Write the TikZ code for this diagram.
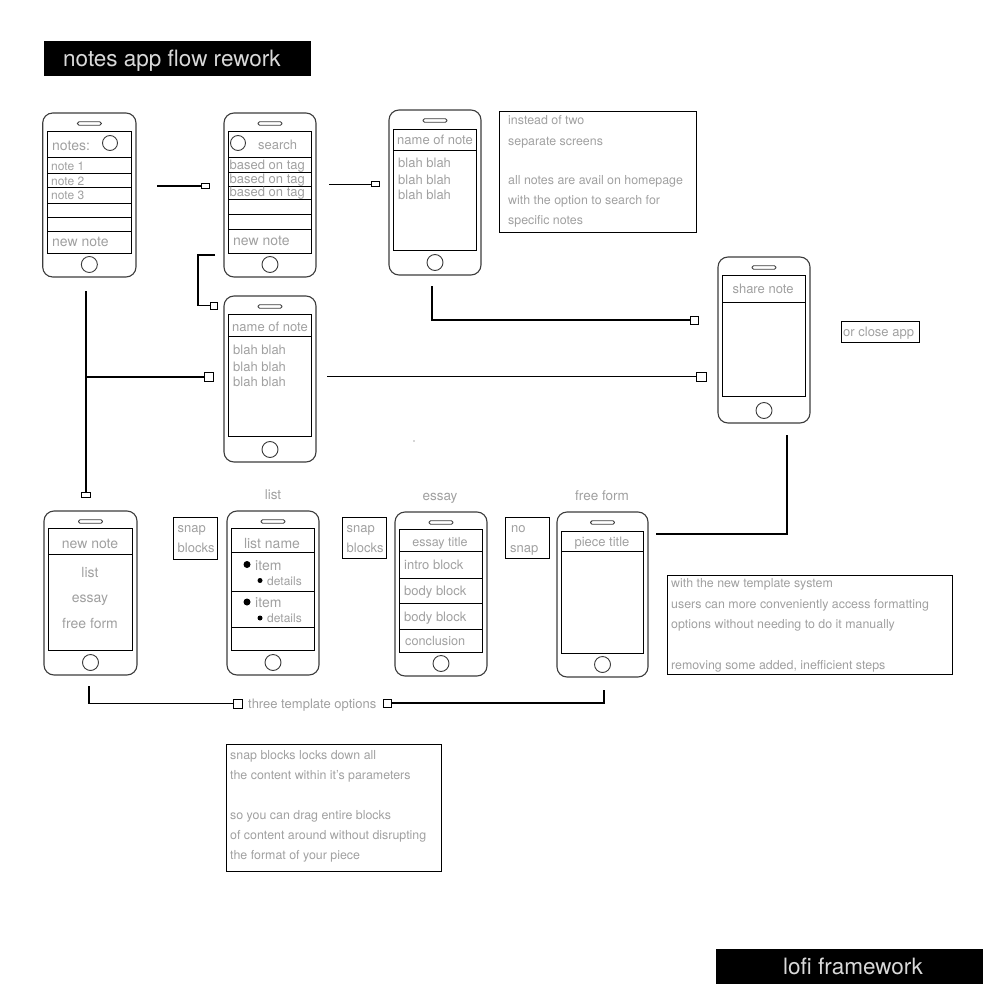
\documentclass[tikz,border=0pt]{standalone}
\usepackage{fontspec}
\setmainfont{TeX Gyre Heros}
\definecolor{txt}{RGB}{160,160,160}
\definecolor{body}{RGB}{60,60,60}
\tikzset{
 phonebody/.style={draw=body, line width=1.1pt, rounded corners=10pt, inner sep=0},
 scr/.style={draw=black, line width=0.9pt, inner sep=0},
 rowline/.style={draw=black, line width=0.9pt},
 spk/.style={draw=body, line width=0.9pt, rounded corners=1.6pt},
 homebtn/.style={draw=body, circle, line width=0.9pt, minimum size=16pt, inner sep=0},
 hdrcirc/.style={draw=body, circle, line width=0.9pt, minimum size=15pt, inner sep=0},
 tb/.style={draw=black, line width=1pt, inner sep=0},
 cn/.style={draw=black, line width=1.2pt},
 endsq/.style={draw=black, line width=1pt, fill=white, inner sep=0, minimum width=8pt, minimum height=8pt},
 endtab/.style={endsq, minimum width=8pt, minimum height=5pt},
 lbl/.style={text=txt, inner sep=0, text height=12pt, text depth=2pt, font=\fontsize{13}{15}\selectfont},
 big/.style={lbl, text height=12.6pt, font=\fontsize{14}{16}\selectfont},
 small/.style={lbl, text height=11.4pt, font=\fontsize{12}{14}\selectfont},
 note/.style={lbl, text height=11.8pt, font=\fontsize{12.4}{14}\selectfont, anchor=west},
 banner/.style={fill=black, inner sep=0},
 bannertxt/.style={text=white!85!black, inner sep=0, text height=18.5pt, text depth=2pt, font=\fontsize{22.5}{24}\selectfont, anchor=west},
 bul/.style={circle, fill=black, inner sep=0, minimum size=7pt},
 sbul/.style={circle, fill=black, inner sep=0, minimum size=5pt},
}
\newcommand\rectnode[6]{%
 \pgfmathsetmacro\rnW{(#5)-(#3)}\pgfmathsetmacro\rnH{(#6)-(#4)}%
 \node[#1, minimum width=\rnW pt, minimum height=\rnH pt] (#2) at ({((#3)+(#5))/2},{((#4)+(#6))/2}) {};}
\newcommand\phone[7]{%
 \pgfmathsetmacro\phX{((#2)+(#4))/2}%
 \rectnode{phonebody}{#1}{#2}{#3}{#4}{#5}%
 \rectnode{scr}{#1-s}{#2+4.5}{#6}{#4-4.5}{#7}%
 \draw[spk] (\phX-12,#3+8.75) rectangle (\phX+12,#3+12.25);%
 \node[homebtn] (#1-h) at (\phX,#5-12.5) {};}
\newcommand\rows[3]{% L R list
 \foreach \yy in {#3} {\draw[rowline] (#1,\yy) -- (#2,\yy);}}
\begin{document}
\begin{tikzpicture}[x=1pt,y=-1pt]
\useasboundingbox (0,0) rectangle (1000,1000);
% banners
\rectnode{banner}{title}{44}{41}{311}{76}
\node[bannertxt] (titletxt) at (63,58.5) {notes app flow rework};
\rectnode{banner}{lofi}{716}{949}{983}{984}
\node[bannertxt] (lofitxt) at (783,966) {lofi framework};

% phone 1: notes
\phone{p1}{42.7}{113}{136}{277}{131}{253}
\rows{47.2}{131.5}{157,173,187,203,217,231}
\node[hdrcirc] (p1c) at (110,143) {};
\node[big, anchor=west] (p1t) at (52,145) {notes:};
\node[small, anchor=west] (p1n1) at (51,165.5) {note 1};
\node[small, anchor=west] (p1n2) at (51,180.5) {note 2};
\node[small, anchor=west] (p1n3) at (51,194.5) {note 3};
\node[big, anchor=west] (p1nn) at (52,241) {new note};

% phone 2: search
\phone{p2}{224}{113}{316}{277}{131}{253}
\rows{228.5}{311.5}{157,172,186,199,214,229}
\node[hdrcirc] (p2c) at (238,143) {};
\node[lbl, anchor=west] (p2t) at (258,145) {search};
\node[lbl, anchor=west] (p2a) at (229.5,165) {based on tag};
\node[lbl, anchor=west] (p2b) at (229.5,179) {based on tag};
\node[lbl, anchor=west] (p2c2) at (229.5,192) {based on tag};
\node[big, anchor=west] (p2nn) at (233,240) {new note};

% phone 3: note
\phone{p3}{389}{110}{481}{275}{129}{250}
\rows{393.5}{476.5}{150}
\node[lbl] (p3t) at (435,140) {name of note};
\node[lbl, anchor=west] (p3a) at (398,163) {blah blah};
\node[lbl, anchor=west] (p3b) at (398,180) {blah blah};
\node[lbl, anchor=west] (p3c) at (398,195) {blah blah};

% text box 1
\rectnode{tb}{box1}{499}{112}{696}{233}
\node[note] (b1l1) at (508,120) {instead of two};
\node[note] (b1l2) at (508,141) {separate screens};
\node[note] (b1l3) at (508,180) {all notes are avail on homepage};
\node[note] (b1l4) at (508,200) {with the option to search for};
\node[note] (b1l5) at (508,220) {specific notes};

% middle phone
\phone{p4}{224}{296}{316}{462}{314}{436}
\rows{228.5}{311.5}{336}
\node[lbl] (p4t) at (270,326) {name of note};
\node[lbl, anchor=west] (p4a) at (233,349) {blah blah};
\node[lbl, anchor=west] (p4b) at (233,366) {blah blah};
\node[lbl, anchor=west] (p4c) at (233,381) {blah blah};
\node[circle, fill=black!70, inner sep=0, minimum size=1.3pt] (dot) at (414,441) {};

% share phone
\phone{p5}{718}{257}{810}{423}{275}{396}
\rows{722.5}{805.5}{302}
\node[lbl] (p5t) at (763,288) {share note};
\rectnode{tb}{closebox}{841}{321}{919}{342}
\node[lbl, anchor=west] (closetxt) at (843,331.5) {or close app};

% bottom phones
\phone{p6}{44}{511}{137}{675}{528}{650}
\rows{48.5}{132.5}{554}
\node[big] (p6t) at (90,543) {new note};
\node[big] (p6a) at (90,572) {list};
\node[big] (p6b) at (90,597) {essay};
\node[big] (p6c) at (90,623) {free form};

\rectnode{tb}{snap1}{173}{517}{217}{559}
\node[lbl, anchor=west] (s1a) at (177.5,527) {snap};
\node[lbl, anchor=west] (s1b) at (177.5,547) {blocks};

\node[lbl, font=\fontsize{13.5}{15}\selectfont] (lab1) at (273,494) {list};
\phone{p7}{227}{511}{319}{675}{528}{650}
\rows{231.5}{314.5}{552,591,627}
\node[big] (p7t) at (272,543) {list name};
\node[bul] (p7b1) at (247,564.5) {};
\node[big, anchor=west] (p7i1) at (255,565) {item};
\node[sbul] (p7s1) at (260,580.5) {};
\node[small, anchor=west] (p7d1) at (267,580.5) {details};
\node[bul] (p7b2) at (247,602) {};
\node[big, anchor=west] (p7i2) at (255,602.5) {item};
\node[sbul] (p7s2) at (260,618) {};
\node[small, anchor=west] (p7d2) at (267,618) {details};

\rectnode{tb}{snap2}{342}{517}{386}{558}
\node[lbl, anchor=west] (s2a) at (346.5,527) {snap};
\node[lbl, anchor=west] (s2b) at (346.5,547) {blocks};

\node[lbl, font=\fontsize{13.5}{15}\selectfont] (lab2) at (440,495) {essay};
\phone{p8}{395}{512}{487}{676}{529}{652}
\rows{399.5}{482.5}{551,578,603,629}
\node[lbl, font=\fontsize{12.5}{14}\selectfont] (p8t) at (440,541) {essay title};
\node[lbl, anchor=west] (p8a) at (404,564) {intro block};
\node[lbl, anchor=west] (p8b) at (404,590) {body block};
\node[lbl, anchor=west] (p8c) at (404,616) {body block};
\node[lbl, anchor=west, font=\fontsize{12.7}{14}\selectfont] (p8d) at (405,640) {conclusion};

\rectnode{tb}{nosnap}{505}{517}{549}{558}
\node[lbl, anchor=west] (nsa) at (511,527) {no};
\node[lbl, anchor=west] (nsb) at (510,547) {snap};

\node[lbl, font=\fontsize{13.5}{15}\selectfont] (lab3) at (602,495) {free form};
\phone{p9}{557}{512}{648}{677}{531}{653}
\rows{561.5}{643.5}{551}
\node[lbl] (p9t) at (602,541) {piece title};

% text box 2
\rectnode{tb}{box2}{667}{575}{952}{674}
\node[note] (b2l1) at (671,583) {with the new template system};
\node[note] (b2l2) at (671,604) {users can more conveniently access formatting};
\node[note] (b2l3) at (671,624) {options without needing to do it manually};
\node[note] (b2l4) at (671,665) {removing some added, inefficient steps};

% text box 3
\rectnode{tb}{box3}{226}{744}{441}{871}
\node[note] (b3l1) at (230,755) {snap blocks locks down all};
\node[note] (b3l2) at (230,775) {the content within it's parameters};
\node[note] (b3l3) at (230,815) {so you can drag entire blocks};
\node[note] (b3l4) at (230,835) {of content around without disrupting};
\node[note] (b3l5) at (230,855) {the format of your piece};

% connectors
\coordinate (a0) at (157,186);
\node[endtab] (a1) at (205.5,186) {};
\draw[cn] (a0) -- (a1.west);

\coordinate (b0) at (329,184.5);
\node[endtab] (b1) at (375.5,184.5) {};
\draw[cn] (b0) -- (b1.west);

\coordinate (c0) at (432,286);
\node[endsq] (c1) at (694.5,320) {};
\draw[cn] (c0) |- (c1.west);

\coordinate (d0) at (215,255);
\coordinate (d2) at (198,255);
\node[endsq, minimum width=7pt, minimum height=7pt] (d1) at (214,305.5) {};
\draw[cn] (d0) -- (d2) |- (d1.west);

\coordinate (e0) at (86,291);
\node[endtab, minimum width=9pt, minimum height=4.5pt] (e1) at (86,495) {};
\draw[cn] (e0) -- (e1.north);
\coordinate (e3) at (86,377);
\node[endsq, minimum width=9pt, minimum height=9pt] (e2) at (208.5,377) {};
\draw[cn] (e3) -- (e2.west);

\coordinate (f0) at (327,376.8);
\node[endsq, minimum width=10pt, minimum height=9pt] (f1) at (701,376.8) {};
\draw[cn] (f0) -- (f1.west);

\coordinate (g0) at (787,435);
\coordinate (g1) at (656,534);
\draw[cn] (g0) |- (g1);

\coordinate (h0) at (89,686);
\node[endsq, minimum width=9pt, minimum height=9pt] (h1) at (237.5,703.5) {};
\draw[cn] (h0) |- (h1.west);
\node[lbl, anchor=west] (h2) at (248,703.5) {three template options};
\node[endsq] (h3) at (387,703) {};
\coordinate (h4) at (604,690);
\draw[cn] (h4) |- (h3.east);
\end{tikzpicture}
\end{document}
